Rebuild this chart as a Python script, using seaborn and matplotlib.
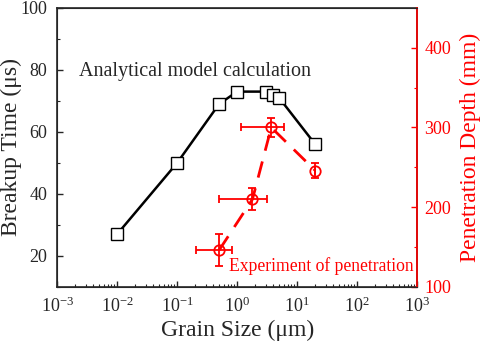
import numpy as np
import pandas as pd
import matplotlib
matplotlib.use('Agg')
import matplotlib.pyplot as plt
import seaborn as sns
from matplotlib.ticker import MultipleLocator, LogLocator, NullFormatter, FixedLocator

# model calculation (left axis)
grain_model = [0.01, 0.1, 0.5, 1.0, 3.0, 4.0, 5.0, 20.0]
breakup_time = [27, 50, 69, 73, 73, 72, 71, 56]

# penetration experiment (right axis)
grain_exp = [0.5, 1.8, 3.7, 20.0]
grain_lo = [0.21, 0.5, 1.17, 20.0]
grain_hi = [0.82, 3.16, 6.07, 20.0]
depth = [146, 210, 300, 246]
depth_err = [20, 14, 12, 10]

x_ticks = [1e-3, 1e-2, 1e-1, 1e0, 1e1, 1e2, 1e3]

sns.set_style('ticks')
plt.rcParams['font.family'] = ['Liberation Serif', 'DejaVu Serif']
plt.rcParams['mathtext.fontset'] = 'stix'

df_model = pd.DataFrame({'grain': grain_model, 'time': breakup_time})
df_exp = pd.DataFrame({'grain': grain_exp, 'depth': depth})

fig, ax = plt.subplots(figsize=(4.84, 3.44), dpi=100)
fig.subplots_adjust(left=0.118, right=0.862, top=0.977, bottom=0.166)

sns.lineplot(data=df_model, x='grain', y='time', ax=ax, color='black', lw=1.8,
             marker='s', markersize=8.5, markerfacecolor='white', markeredgecolor='black',
             markeredgewidth=1.0)
ax.set_xscale('log')
ax.set_xlim(1e-3, 1e3)
ax.set_ylim(10, 100)
ax.yaxis.set_major_locator(MultipleLocator(20))
ax.yaxis.set_minor_locator(MultipleLocator(10))
ax.xaxis.set_major_locator(FixedLocator(x_ticks))
ax.xaxis.set_minor_locator(LogLocator(base=10, subs=np.arange(2, 10), numticks=20))
ax.xaxis.set_minor_formatter(NullFormatter())
ax.tick_params(which='both', direction='in', labelsize=13, top=False)
ax.tick_params(which='major', length=4.5, width=1)
ax.tick_params(axis='y', which='major', pad=7)
ax.tick_params(axis='x', which='major', pad=7)
ax.tick_params(which='minor', length=2.5, width=0.8)
ax.set_xlabel('Grain Size (μm)', fontsize=17, labelpad=3)
ax.set_ylabel('Breakup Time (μs)', fontsize=17)
ax.yaxis.set_label_coords(-0.097, 0.5)
for s in ax.spines.values():
    s.set_linewidth(1.2)
ax.text(0.0023, 79.5, 'Analytical model calculation', fontsize=14.5, va='center')

ax2 = ax.twinx()
xerr = [np.array(grain_exp) - np.array(grain_lo), np.array(grain_hi) - np.array(grain_exp)]
ax2.errorbar(grain_exp, depth, xerr=xerr, yerr=depth_err, fmt='none', ecolor='red',
             elinewidth=1.3, capsize=3, capthick=1.3)
sns.lineplot(data=df_exp, x='grain', y='depth', ax=ax2, color='red', lw=2,
             marker='o', markersize=7.5, markerfacecolor='none', markeredgecolor='red',
             markeredgewidth=1.3)
ax2.lines[-1].set_dashes([6, 4])
ax2.set_ylim(100, 450)
ax2.yaxis.set_major_locator(MultipleLocator(100))
ax2.yaxis.set_minor_locator(MultipleLocator(50))
ax2.tick_params(which='both', direction='in', colors='red', labelsize=13)
ax2.tick_params(which='major', length=4.5, width=1, pad=5)
ax2.tick_params(which='minor', length=2.5, width=0.8)
ax2.spines['right'].set_color('red')
ax2.spines['right'].set_linewidth(1.2)
ax2.set_ylabel('Penetration Depth (mm)', fontsize=17, color='red', labelpad=6)
ax2.set_xlabel('')
ax2.text(0.99, 0.075, 'Experiment of penetration', transform=ax2.transAxes,
         fontsize=12.7, color='red', ha='right', va='center')

fig.savefig('out.png', dpi=100)
